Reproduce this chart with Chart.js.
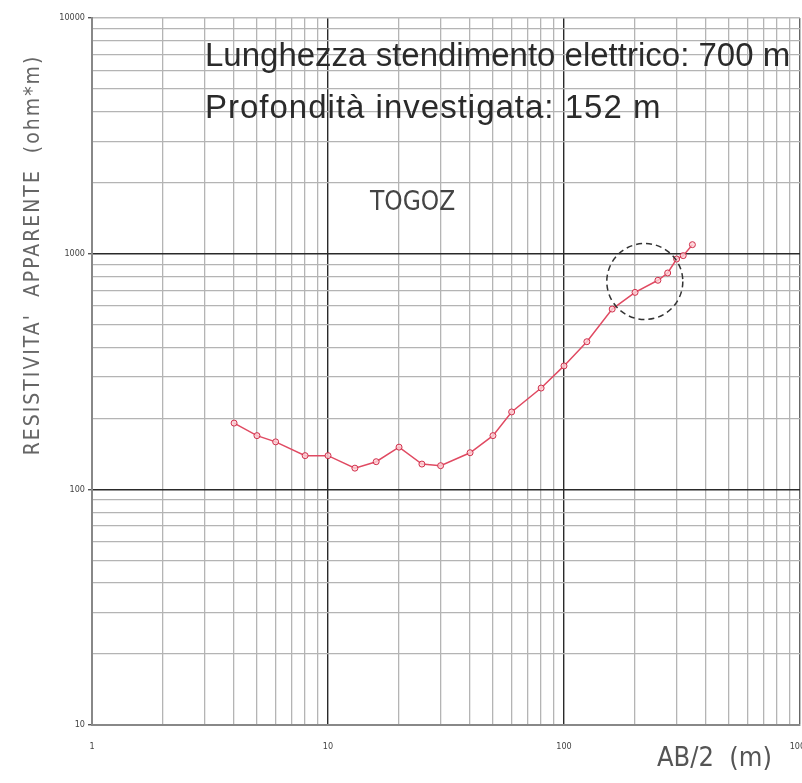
<!DOCTYPE html>
<html>
<head>
<meta charset="utf-8">
<script src="https://cdn.jsdelivr.net/npm/chart.js@4"></script>
<style>
  body { margin: 0; background: #fff; }
  canvas { display: block; }
</style>
</head>
<body>
<canvas id="sev-chart" width="802" height="783"></canvas>
<script>
// AB/2 (m) and apparent resistivity (ohm*m)
var abHalf = [4, 5, 6, 8, 10, 13, 16, 20, 25, 30, 40, 50, 60, 80, 100, 125, 160, 200, 250, 275, 300, 320, 350];
var resistivity = [191, 169, 159, 139, 139, 123, 131, 151, 128, 126, 143, 169, 213, 269, 334, 423, 582, 685, 771, 828, 949, 981, 1092];

var xDecades = [1, 10, 100, 1000];
var yDecades = [10, 100, 1000, 10000];
var xLabels = ['1', '10', '100', '1000'];
var yLabels = ['10', '100', '1000', '10000'];

// dashed circle marking the last points
var circleCenter = [220, 762];

var points = abHalf.map(function (x, i) { return { x: x, y: resistivity[i] }; });

function logTicks(decades) {
    var t = [];
    for (var d = 0; d < decades.length - 1; d++) {
        for (var m = 1; m < 10; m++) t.push({ value: decades[d] * m });
    }
    t.push({ value: decades[decades.length - 1] });
    return t;
}

function isDecade(v) {
    var l = Math.log10(v);
    return Math.abs(l - Math.round(l)) < 1e-9;
}

var textPlugin = {
    id: 'texts',
    afterDatasetsDraw: function (chart) {
        var ctx = chart.ctx;
        var xs = chart.scales.x, ys = chart.scales.y;
        var cx = xs.getPixelForValue(circleCenter[0]);
        var cy = ys.getPixelForValue(circleCenter[1]);
        ctx.save();
        ctx.strokeStyle = '#333';
        ctx.lineWidth = 1.5;
        ctx.setLineDash([6, 4]);
        ctx.beginPath();
        ctx.arc(cx, cy, 38, 0, Math.PI * 2);
        ctx.stroke();
        ctx.restore();
    },
    afterDraw: function (chart) {
        var ctx = chart.ctx;
        ctx.save();
        ctx.fillStyle = '#2a2a2a';
        ctx.textBaseline = 'alphabetic';
        ctx.textAlign = 'left';
        ctx.font = '33px "Liberation Sans", Arial, sans-serif';
        ctx.fillText('Lunghezza stendimento elettrico: 700 m', 205, 66);
        ctx.letterSpacing = '1px';
        ctx.fillText('Profondità investigata: 152 m', 205, 118);
        ctx.letterSpacing = '0px';

        ctx.fillStyle = '#444';
        ctx.font = '26px "Liberation Sans Narrow", "DejaVu Sans Condensed", sans-serif';
        ctx.fillText('TOGOZ', 370, 210);

        ctx.fillStyle = '#555';
        ctx.font = '27px "Liberation Sans Narrow", "DejaVu Sans Condensed", sans-serif';
        ctx.fillText('AB/2  (m)', 657, 766);

        ctx.translate(39, 255);
        ctx.rotate(-Math.PI / 2);
        ctx.textAlign = 'center';
        ctx.letterSpacing = '2px';
        ctx.fillStyle = '#666';
        ctx.font = '21px "Liberation Sans Narrow", "DejaVu Sans Condensed", sans-serif';
        ctx.fillText("RESISTIVITA'  APPARENTE  (ohm*m)", 0, 0);
        ctx.restore();
    }
};

var chart = new Chart(document.getElementById('sev-chart'), {
    type: 'scatter',
    data: {
        datasets: [{
            data: points,
            showLine: true,
            borderColor: '#e04a62',
            borderWidth: 1.5,
            pointRadius: 3,
            pointBorderWidth: 1,
            pointBorderColor: '#d0304c',
            pointBackgroundColor: 'rgba(255,210,215,0.8)'
        }]
    },
    options: {
        responsive: false,
        animation: false,
        layout: { autoPadding: false, padding: { top: 18, right: 2, left: 0, bottom: 0 } },
        plugins: { legend: { display: false }, tooltip: { enabled: false } },
        scales: {
            x: {
                type: 'logarithmic',
                min: 1,
                max: 1000,
                afterBuildTicks: function (s) { s.ticks = logTicks(xDecades); },
                afterFit: function (s) { s.height = 58; s.paddingLeft = 0; s.paddingRight = 0; },
                border: { color: '#888', width: 2 },
                grid: {
                    drawTicks: false,
                    color: function (c) {
                        if (c.tick.value === 1000) return '#666';
                        return isDecade(c.tick.value) ? '#2a2a2a' : '#b4b4b4';
                    },
                    lineWidth: function (c) { return isDecade(c.tick.value) ? 1.4 : 1.3; }
                },
                ticks: {
                    autoSkip: false,
                    maxRotation: 0,
                    padding: 16,
                    color: '#444',
                    font: { family: '"DejaVu Sans Condensed", sans-serif', size: 9 },
                    callback: function (v) {
                        var i = xDecades.indexOf(v);
                        return i >= 0 ? xLabels[i] : '';
                    }
                }
            },
            y: {
                type: 'logarithmic',
                min: 10,
                max: 10000,
                afterBuildTicks: function (s) { s.ticks = logTicks(yDecades); },
                afterFit: function (s) { s.width = 92; s.paddingTop = 0; s.paddingBottom = 0; },
                border: { color: '#888', width: 2 },
                grid: {
                    tickLength: 4,
                    tickColor: function (c) { return isDecade(c.tick.value) ? '#555' : 'rgba(0,0,0,0)'; },
                    color: function (c) {
                        if (c.tick.value === 10000) return '#bbb';
                        return isDecade(c.tick.value) ? '#2a2a2a' : '#b4b4b4';
                    },
                    lineWidth: function (c) { return isDecade(c.tick.value) ? 1.4 : 1.3; }
                },
                ticks: {
                    autoSkip: false,
                    padding: 3,
                    color: '#444',
                    font: { family: '"DejaVu Sans Condensed", sans-serif', size: 9 },
                    callback: function (v) {
                        var i = yDecades.indexOf(v);
                        return i >= 0 ? yLabels[i] : '';
                    }
                }
            }
        }
    },
    plugins: [textPlugin]
});
</script>
</body>
</html>
